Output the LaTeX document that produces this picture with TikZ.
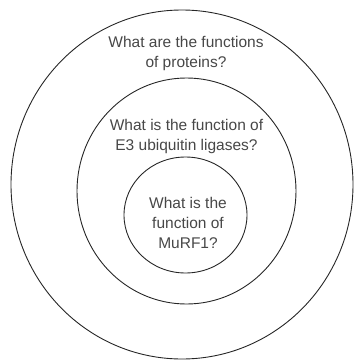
\documentclass[tikz,border=0pt]{standalone}
\usepackage{fontspec}
\setmainfont{Liberation Sans}
\begin{document}
\begin{tikzpicture}[x=1pt,y=-1pt,
  ring/.style={draw=black!85,line width=0.9pt},
  label/.style={text=black!72,align=center,inner sep=0pt,font=\fontsize{15.5}{20}\selectfont,anchor=base}]
\useasboundingbox (0,0) rectangle (355,362);
\draw[ring] (182,184.5) ellipse [x radius=171,y radius=174.5];
\draw[ring] (186.5,191) ellipse [x radius=109.5,y radius=113];
\draw[ring] (185.5,215) ellipse [x radius=61.5,y radius=58];
\node[label] (outer) at (186,67) {What are the functions\\of proteins?};
\node[label] (middle) at (186.5,150.7) {What is the function of\\E3 ubiquitin ligases?};
\node[label] (inner) at (188,248) {What is the\\function of\\MuRF1?};
\end{tikzpicture}
\end{document}
